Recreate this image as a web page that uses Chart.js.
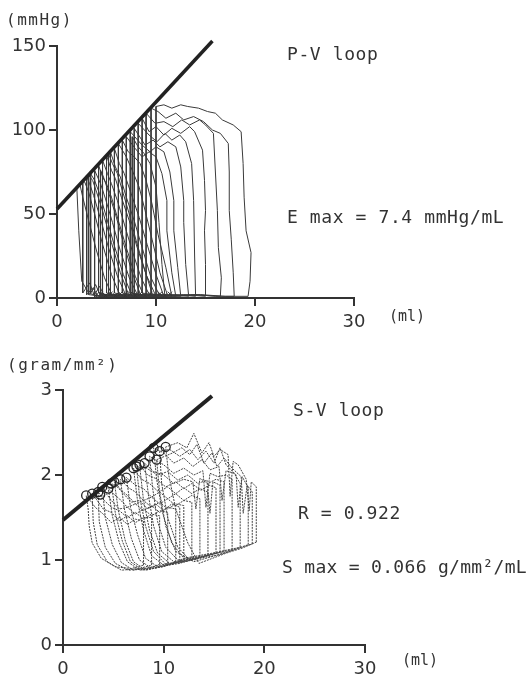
<!DOCTYPE html>
<html>
<head>
<meta charset="utf-8">
<script src="https://cdn.jsdelivr.net/npm/chart.js@4"></script>
<style>
  body { margin: 0; background: #fff; }
  #page { position: relative; width: 531px; height: 676px; overflow: hidden; background: #fff; }
  canvas { position: absolute; left: 0; }
  .note { position: absolute; font-family: "DejaVu Sans Mono", monospace; color: #333; white-space: nowrap; line-height: 1; }
  .big { font-size: 18px; letter-spacing: 0.6px; }
  .small { font-size: 16px; letter-spacing: 1.5px; }
  .unit { font-size: 15px; }
</style>
</head>
<body>
<div id="page">
  <canvas id="pvChart" width="531" height="338" style="top:0"></canvas>
  <canvas id="svChart" width="531" height="338" style="top:338px"></canvas>

  <div class="note small" style="left:6px;top:12px">(mmHg)</div>
  <div class="note big" style="left:287px;top:45px">P-V loop</div>
  <div class="note big" style="left:287px;top:208px">E max = 7.4 mmHg/mL</div>
  <div class="note unit" style="left:389px;top:309px">(ml)</div>

  <div class="note small" style="left:7px;top:357px">(gram/mm²)</div>
  <div class="note big" style="left:293px;top:401px">S-V loop</div>
  <div class="note big" style="left:298px;top:504px">R = 0.922</div>
  <div class="note big" style="left:282px;top:558px;letter-spacing:0.3px">S max = 0.066 g/mm²/mL</div>
  <div class="note unit" style="left:402px;top:653px">(ml)</div>
</div>

<script>
// axis ticks
const volumeTicks = [0, 10, 20, 30];
const pressureTicks = [0, 50, 100, 150];
const stressTicks = [0, 1, 2, 3];

// pressure-volume beats, [ml, mmHg], largest beat first
const pvBeat01 = [[19.3,1],[19.5,10],[19.6,27],[19.1,40],[18.9,60],[18.8,80],[18.6,99],[17.8,103],[16.7,106],[16.0,110],[15.2,111],[14.3,113],[13.2,114],[12.5,115],[11.6,113],[10.8,115],[10.0,114],[10.0,2],[12.0,1],[14.5,2],[17.0,1],[19.3,1]];
const pvBeat02 = [[17.9,1],[17.8,15],[17.6,35],[17.4,52],[17.4,75],[17.3,92],[16.5,98],[15.7,100],[14.8,105],[13.8,108],[12.8,106],[12.0,110],[11.0,107],[10.2,111],[9.5,113],[9.5,2],[11.5,1],[14.0,2],[16.0,1],[17.9,1]];
const pvBeat03 = [[16.5,1],[16.6,12],[16.3,30],[16.2,52],[16.0,75],[15.8,98],[15.0,103],[14.4,106],[13.4,103],[12.6,106],[11.7,102],[10.8,105],[9.9,104],[9.0,110],[9.0,2],[11.0,1],[13.5,2],[16.5,1]];
const pvBeat04 = [[15.0,1],[15.0,20],[14.9,40],[15.0,52],[14.9,70],[14.7,88],[13.9,99],[13.4,102],[12.5,98],[11.6,101],[10.8,97],[10.0,102],[9.3,99],[8.6,107],[8.6,3],[10.5,1],[12.8,2],[15.0,1]];
const pvBeat05 = [[14.0,1],[13.9,25],[13.8,58],[13.6,80],[13.0,93],[12.4,97],[11.6,94],[10.9,98],[10.1,93],[9.3,97],[8.2,104],[8.2,2],[10.2,1],[12.0,2],[14.0,1]];
const pvBeat06 = [[13.3,1],[13.0,20],[12.8,45],[12.8,58],[12.5,78],[12.0,90],[11.2,93],[10.4,90],[9.7,94],[8.9,91],[7.8,101],[7.8,2],[9.5,1],[11.5,2],[13.3,1]];
const pvBeat07 = [[12.5,1],[12.2,18],[11.8,40],[11.8,58],[11.4,75],[10.8,87],[10.0,90],[9.4,87],[8.6,91],[7.4,99],[7.4,3],[9.0,1],[11.0,2],[12.5,1]];
const pvBeat08 = [[12.0,1],[11.6,15],[11.1,40],[11.1,58],[10.6,74],[10.0,84],[9.3,87],[8.6,84],[7.9,89],[7.0,96],[7.0,2],[8.6,1],[10.5,2],[12.0,1]];
const pvBeat09 = [[11.6,1],[11.0,18],[10.2,38],[9.6,56],[9.0,70],[8.4,80],[7.8,84],[7.2,87],[6.6,94],[6.6,3],[8.2,1],[10.0,2],[11.6,1]];
const pvBeat10 = [[11.2,1],[10.4,15],[9.6,35],[8.9,52],[8.3,66],[7.6,76],[7.0,84],[6.2,92],[6.2,2],[7.8,1],[9.6,2],[11.2,1]];
const pvBeat11 = [[10.8,1],[10.0,14],[9.1,32],[8.3,48],[7.5,62],[6.8,74],[6.3,80],[5.8,89],[5.8,3],[7.4,1],[9.2,2],[10.8,1]];
const pvBeat12 = [[10.4,1],[9.5,12],[8.6,30],[7.8,46],[7.0,60],[6.4,72],[5.9,78],[5.4,87],[5.4,2],[7.0,1],[8.8,2],[10.4,1]];
const pvBeat13 = [[10.0,1],[9.0,14],[8.1,30],[7.3,46],[6.5,60],[5.9,71],[5.5,76],[5.0,85],[5.0,3],[6.6,1],[8.4,2],[10.0,1]];
const pvBeat14 = [[9.4,1],[8.5,12],[7.6,28],[6.8,44],[6.1,58],[5.5,68],[5.1,74],[4.6,82],[4.6,2],[6.2,1],[7.8,2],[9.4,1]];
const pvBeat15 = [[8.8,1],[7.9,13],[7.0,30],[6.2,46],[5.5,60],[5.0,68],[4.6,72],[4.2,79],[4.2,3],[5.8,1],[7.4,2],[8.8,1]];
const pvBeat16 = [[8.2,1],[7.3,12],[6.4,28],[5.6,45],[4.9,59],[4.4,68],[4.1,72],[3.8,76],[3.8,2],[4.3,7],[4.8,1],[6.8,2],[8.2,1]];
const pvBeat17 = [[7.6,1],[6.7,14],[5.8,31],[5.0,48],[4.3,62],[3.8,70],[3.4,74],[3.4,3],[3.9,8],[4.4,1],[6.2,2],[7.6,1]];
const pvBeat18 = [[7.0,1],[6.1,13],[5.2,30],[4.4,47],[3.7,61],[3.3,68],[3.0,72],[3.0,2],[3.6,6],[4.2,1],[5.6,2],[7.0,1]];
const pvBeat19 = [[6.4,1],[5.5,14],[4.6,32],[3.8,50],[3.2,63],[2.8,69],[2.6,70],[2.6,3],[3.3,9],[3.8,1],[5.0,2],[6.4,1]];
const pvBeat20 = [[5.6,1],[4.8,12],[4.0,28],[3.2,46],[2.6,60],[2.3,68],[2.0,66],[2.2,40],[2.5,10],[3.2,3],[4.2,1],[5.6,1]];
const pvBeat21 = [[9.7,1],[8.9,16],[8.0,34],[7.3,50],[6.7,62],[6.1,74],[5.6,80],[5.2,86],[5.2,2],[6.8,1],[9.7,1]];
const pvBeat22 = [[8.5,1],[7.6,15],[6.7,33],[5.9,50],[5.2,63],[4.7,72],[4.4,76],[4.4,2],[6.0,1],[8.5,1]];
const pvBeat23 = [[7.3,1],[6.4,15],[5.5,33],[4.7,50],[4.0,63],[3.6,70],[3.2,73],[3.2,2],[4.6,1],[7.3,1]];
const pvBeat24 = [[10.9,1],[10.6,20],[10.3,45],[10.0,66],[9.4,80],[8.8,86],[8.2,90],[7.6,96],[7.6,3],[9.2,1],[10.9,1]];
const pvBeats = [pvBeat01, pvBeat02, pvBeat03, pvBeat04, pvBeat05, pvBeat06, pvBeat07, pvBeat08, pvBeat09, pvBeat10,
                 pvBeat11, pvBeat12, pvBeat13, pvBeat14, pvBeat15, pvBeat16, pvBeat17, pvBeat18, pvBeat19, pvBeat20,
                 pvBeat21, pvBeat22, pvBeat23, pvBeat24];

// end-diastolic marks along the baseline
const pvDiastolicMarks = [[3.9,1.5],[4.4,2.5],[4.9,1.5],[5.4,2.5],[5.9,1.5],[6.4,2.5],[6.9,1.5],[7.4,2.5],[7.9,1.5],
                          [8.4,2.5],[8.9,1.5],[9.4,2.5],[9.9,1.5],[10.4,2.5],[10.9,1.5],[11.4,2.5]];
// Emax regression line
const pvEmaxLine = [[0,53],[15.7,153]];

// stress-volume beats, [ml, g/mm2], largest beat first
const svBeat01 = [[19.2,1.21],[19.2,1.86],[18.7,1.92],[18.5,1.58],[18.2,1.95],[17.4,2.12],[16.9,2.16],[16.6,1.75],[16.4,2.24],[15.6,2.30],[15.0,2.22],[14.5,2.38],[13.8,2.26],[13.0,2.49],[12.3,2.32],[11.4,2.38],[10.2,2.33],[10.5,2.0],[11.2,1.6],[12.4,1.2],[13.5,0.96],[16.2,1.08],[17.8,1.14],[19.2,1.21]];
const svBeat02 = [[18.4,1.18],[18.4,1.85],[17.8,1.98],[17.4,1.62],[17.2,2.0],[16.2,2.12],[15.6,2.32],[15.0,2.14],[14.2,2.28],[13.4,2.18],[12.6,2.30],[11.6,2.22],[10.6,2.30],[9.6,2.28],[9.8,1.9],[10.4,1.5],[11.4,1.15],[12.6,1.0],[15.4,1.06],[18.4,1.18]];
const svBeat03 = [[17.6,1.15],[17.6,1.90],[17.0,2.02],[16.2,2.05],[15.8,1.70],[15.5,2.10],[14.6,2.06],[13.8,2.18],[12.9,2.10],[12.0,2.20],[11.0,2.14],[10.0,2.26],[9.0,2.32],[9.3,1.95],[9.9,1.55],[10.8,1.2],[12.0,1.02],[14.8,1.08],[17.6,1.15]];
const svBeat04 = [[16.8,1.12],[16.8,1.95],[16.2,2.0],[15.4,1.98],[14.6,2.02],[14.2,1.62],[13.9,2.05],[13.0,2.0],[12.0,2.08],[11.0,2.02],[10.0,2.12],[8.6,2.22],[8.9,1.85],[9.4,1.45],[10.2,1.15],[11.4,1.0],[14.0,1.05],[16.8,1.12]];
const svBeat05 = [[16.0,1.10],[16.0,1.92],[15.2,1.95],[14.4,1.90],[13.6,1.96],[13.2,1.60],[12.9,1.92],[12.0,1.95],[11.0,1.90],[10.0,2.0],[9.0,2.04],[8.1,2.14],[8.5,1.75],[9.0,1.4],[9.8,1.1],[11.0,0.98],[13.5,1.03],[16.0,1.10]];
const svBeat06 = [[15.2,1.08],[15.2,1.85],[14.5,1.88],[13.7,1.82],[12.8,1.90],[12.0,1.84],[11.2,1.92],[10.2,1.86],[9.2,1.96],[8.4,2.0],[7.6,2.12],[8.0,1.7],[8.6,1.35],[9.4,1.08],[10.6,0.96],[13.0,1.0],[15.2,1.08]];
const svBeat07 = [[14.4,1.06],[14.4,1.80],[13.6,1.84],[12.8,1.78],[12.0,1.85],[11.2,1.78],[10.4,1.86],[9.5,1.80],[8.6,1.90],[7.8,1.95],[7.0,2.08],[7.4,1.7],[8.0,1.35],[8.8,1.05],[10.0,0.94],[12.2,0.98],[14.4,1.06]];
const svBeat08 = [[13.6,1.04],[13.6,1.72],[12.8,1.76],[12.0,1.70],[11.2,1.78],[10.4,1.72],[9.6,1.80],[8.8,1.74],[8.0,1.84],[7.2,1.88],[6.3,1.97],[6.7,1.62],[7.4,1.3],[8.2,1.02],[9.4,0.92],[11.6,0.96],[13.6,1.04]];
const svBeat09 = [[12.8,1.02],[12.8,1.68],[12.0,1.70],[11.2,1.64],[10.4,1.72],[9.6,1.66],[8.8,1.74],[8.0,1.70],[7.2,1.80],[6.5,1.85],[5.7,1.95],[6.1,1.6],[6.8,1.25],[7.6,1.0],[8.8,0.90],[10.8,0.95],[12.8,1.02]];
const svBeat10 = [[12.0,1.0],[12.0,1.64],[11.2,1.66],[10.4,1.60],[9.6,1.68],[8.8,1.62],[8.0,1.70],[7.2,1.66],[6.4,1.76],[5.8,1.82],[5.1,1.92],[5.5,1.58],[6.2,1.22],[7.0,0.98],[8.2,0.88],[10.2,0.93],[12.0,1.0]];
const svBeat11 = [[11.2,0.98],[11.2,1.60],[10.4,1.62],[9.6,1.56],[8.8,1.64],[8.0,1.58],[7.2,1.66],[6.4,1.62],[5.6,1.72],[5.0,1.78],[4.5,1.84],[4.9,1.52],[5.6,1.2],[6.4,0.98],[7.6,0.88],[9.6,0.92],[11.2,0.98]];
const svBeat12 = [[10.4,0.96],[10.4,1.56],[9.6,1.58],[8.8,1.52],[8.0,1.60],[7.2,1.54],[6.4,1.62],[5.6,1.60],[4.8,1.70],[4.3,1.78],[3.9,1.86],[4.2,1.5],[4.9,1.18],[5.8,0.97],[7.0,0.88],[9.0,0.92],[10.4,0.96]];
const svBeat13 = [[9.6,0.95],[9.6,1.52],[8.8,1.54],[8.0,1.48],[7.2,1.56],[6.4,1.50],[5.6,1.58],[4.8,1.62],[4.1,1.70],[3.5,1.80],[3.6,1.45],[4.2,1.15],[5.2,0.96],[6.5,0.88],[8.4,0.90],[9.6,0.95]];
const svBeat14 = [[8.8,0.94],[8.8,1.50],[8.0,1.50],[7.2,1.44],[6.4,1.52],[5.6,1.46],[4.8,1.56],[4.0,1.60],[3.4,1.70],[2.9,1.78],[3.0,1.45],[3.4,1.18],[4.4,0.98],[5.8,0.88],[7.6,0.90],[8.8,0.94]];
const svBeat15 = [[8.0,0.94],[8.0,1.46],[7.2,1.48],[6.4,1.42],[5.6,1.50],[4.8,1.44],[4.0,1.54],[3.2,1.62],[2.7,1.70],[2.3,1.76],[2.5,1.6],[2.6,1.4],[2.9,1.2],[3.8,1.02],[5.2,0.92],[6.8,0.90],[8.0,0.94]];
const svBeat16 = [[18.8,1.19],[18.8,1.80],[18.3,1.88],[17.9,1.55],[17.7,1.98],[16.8,2.08],[16.0,2.20],[15.3,2.10],[14.8,2.26],[14.0,2.14],[13.3,2.36],[12.6,2.24],[11.8,2.32],[10.9,2.26],[9.3,2.18],[9.6,1.8],[10.2,1.4],[11.2,1.1],[13.0,0.98],[16.0,1.08],[18.8,1.19]];
const svBeat17 = [[15.6,1.09],[15.6,1.88],[14.9,1.92],[14.6,1.55],[14.3,1.94],[13.4,1.90],[12.4,2.0],[11.4,1.94],[10.4,2.04],[9.4,2.0],[8.3,2.08],[7.3,2.10],[7.6,1.75],[8.2,1.4],[9.0,1.1],[10.2,0.95],[12.6,1.0],[15.6,1.09]];
const svBeat18 = [[11.6,0.99],[11.6,1.62],[10.8,1.66],[10.0,1.58],[9.2,1.66],[8.4,1.60],[7.6,1.70],[6.8,1.68],[6.0,1.78],[5.4,1.86],[4.8,1.90],[5.2,1.55],[5.9,1.22],[6.7,0.98],[7.9,0.88],[9.9,0.92],[11.6,0.99]];
const svBeats = [svBeat01, svBeat02, svBeat03, svBeat04, svBeat05, svBeat06, svBeat07, svBeat08, svBeat09,
                 svBeat10, svBeat11, svBeat12, svBeat13, svBeat14, svBeat15, svBeat16, svBeat17, svBeat18];

// end-systolic points (circled)
const svEndSystolic = [[2.3,1.76],[2.9,1.78],[3.5,1.80],[3.7,1.77],[3.9,1.86],[4.5,1.84],[4.8,1.90],[5.1,1.92],[5.7,1.95],[6.3,1.97],
                       [7.0,2.08],[7.3,2.10],[7.6,2.12],[8.1,2.14],[8.6,2.22],[9.0,2.32],[9.3,2.18],[9.6,2.28],[10.2,2.33]];
// Smax regression line
const svSmaxLine = [[0,1.47],[14.8,2.93]];

const ink = '#333';
const toXY = pairs => pairs.map(([x, y]) => ({ x, y }));

function beatDatasets(beats, color, dash) {
  return beats.map(beat => ({
    data: toXY(beat),
    showLine: true,
    borderColor: color,
    borderWidth: 1,
    borderDash: dash,
    pointRadius: 0,
    fill: false
  }));
}

function makeAxis(min, max, tickValues, fit, pad) {
  return {
    type: 'linear',
    min: min,
    max: max,
    afterBuildTicks: scale => { scale.ticks = tickValues.map(value => ({ value })); },
    afterFit: fit,
    grid: { drawOnChartArea: false, drawTicks: true, tickLength: 8, color: ink, lineWidth: 2 },
    border: { display: true, color: ink, width: 2 },
    ticks: { color: ink, font: { family: 'DejaVu Sans', size: 18, lineHeight: 1 }, padding: pad, maxRotation: 0, autoSkip: false }
  };
}

function makeChart(id, datasets, padding, xFit, yAxis) {
  return new Chart(document.getElementById(id), {
    type: 'scatter',
    data: { datasets: datasets },
    options: {
      responsive: false,
      animation: false,
      layout: { padding: padding },
      plugins: { legend: { display: false }, tooltip: { enabled: false } },
      scales: {
        x: makeAxis(0, 30, volumeTicks, xFit, 7),
        y: yAxis
      }
    }
  });
}

// P-V loop chart
makeChart('pvChart', [
  { data: toXY(pvEmaxLine), showLine: true, borderColor: '#222', borderWidth: 3.5, pointRadius: 0, clip: false },
  { data: toXY(pvDiastolicMarks), pointStyle: 'crossRot', pointRadius: 3, borderColor: ink, borderWidth: 1 },
  ...beatDatasets(pvBeats, '#3a3a3a', [])
], { left: 0, right: 177, top: 46, bottom: 0 },
  s => { s.height = 40; },
  makeAxis(0, 150, pressureTicks, s => { s.width = 57; }, 3));

// S-V loop chart
makeChart('svChart', [
  { data: toXY(svSmaxLine), showLine: true, borderColor: '#222', borderWidth: 4, pointRadius: 0, clip: false },
  { data: toXY(svEndSystolic), pointStyle: 'circle', pointRadius: 4.5, backgroundColor: 'rgba(0,0,0,0)', borderColor: '#222', borderWidth: 1.3 },
  ...beatDatasets(svBeats, '#444', [2, 1])
], { left: 0, right: 166, top: 52, bottom: 0 },
  s => { s.height = 31; },
  makeAxis(0, 3, stressTicks, s => { s.width = 63; }, 3));
</script>
</body>
</html>
